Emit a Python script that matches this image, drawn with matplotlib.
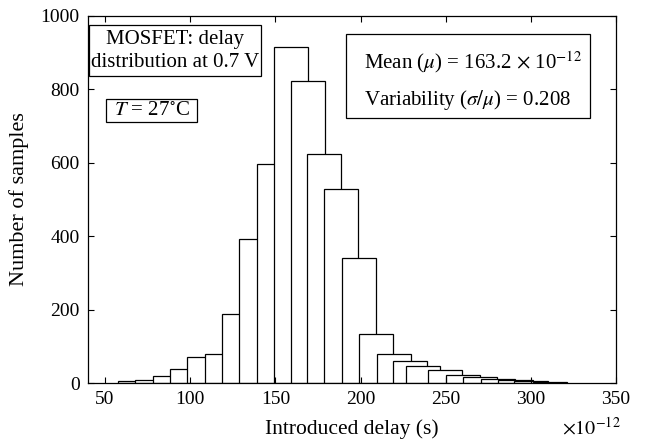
import numpy as np
import matplotlib
matplotlib.use("Agg")
import matplotlib.pyplot as plt
from matplotlib.patches import Rectangle

plt.rcParams['font.family'] = ['Liberation Serif', 'DejaVu Serif']
plt.rcParams['mathtext.fontset'] = 'stix'

# histogram (delay in units of 1e-12 s)
bin_left = [57.5, 67.6, 78.3, 88.2, 98.3, 108.5, 118.7, 128.8, 139.0, 149.0,
            159.0, 168.8, 178.8, 189.0, 199.2, 209.5, 219.3, 226.7, 239.8,
            250.2, 260.4, 270.6, 281.0, 290.0, 301.0]
counts = [5, 8, 19, 37, 71, 78, 188, 392, 598, 916,
          822, 625, 529, 341, 133, 80, 61, 46, 35,
          23, 16, 11, 8, 6, 3]
bar_width = 20

xticks = [50, 100, 150, 200, 250, 300, 350]
yticks = [0, 200, 400, 600, 800, 1000]

fig = plt.figure(figsize=(6.5, 4.43), dpi=100)
ax = fig.add_axes([88/650, 1-383/443, 528/650, 367/443])

ax.bar(bin_left, counts, width=bar_width, align='edge',
       facecolor='white', edgecolor='black', linewidth=0.9)

ax.set_xlim(40, 350)
ax.set_ylim(0, 1000)
ax.set_xticks(xticks)
ax.set_yticks(yticks)
ax.tick_params(direction='in', top=True, right=True, length=4, width=0.8,
               labelsize=14, pad=6)
for s in ax.spines.values():
    s.set_linewidth(0.9)

ax.set_xlabel('Introduced delay (s)', fontsize=15.5, labelpad=8)
ax.set_ylabel('Number of samples', fontsize=16, labelpad=8)
fig.text(621/650, 1-428/443, r'$\times 10^{-12}$', fontsize=14.5,
         ha='right', va='center')

# annotation boxes
def box(x0, x1, y0, y1):
    ax.add_patch(Rectangle((x0, y0), x1-x0, y1-y0, transform=ax.transAxes,
                           facecolor='white', edgecolor='black',
                           linewidth=0.9, zorder=5))

box(0.0025, 0.3277, 0.8365, 0.9755)
ax.text(0.165, 0.904, 'MOSFET: delay\ndistribution at 0.7 V', transform=ax.transAxes,
        ha='center', va='center', fontsize=15, linespacing=1.25, zorder=6)

box(0.0341, 0.207, 0.712, 0.773)
ax.text(0.1206, 0.7425, r'$T$ = 27$^{\circ}$C', transform=ax.transAxes,
        ha='center', va='center', fontsize=15, zorder=6)

box(0.488, 0.9508, 0.7213, 0.951)
ax.text(0.5227, 0.8755, r'Mean ($\mu$) = 163.2 $\times$ 10$^{-12}$',
        transform=ax.transAxes, ha='left', va='center', fontsize=15, zorder=6)
ax.text(0.5227, 0.771, r'Variability ($\sigma/\mu$) = 0.208',
        transform=ax.transAxes, ha='left', va='center', fontsize=15, zorder=6)

fig.savefig('out.png', dpi=100)
